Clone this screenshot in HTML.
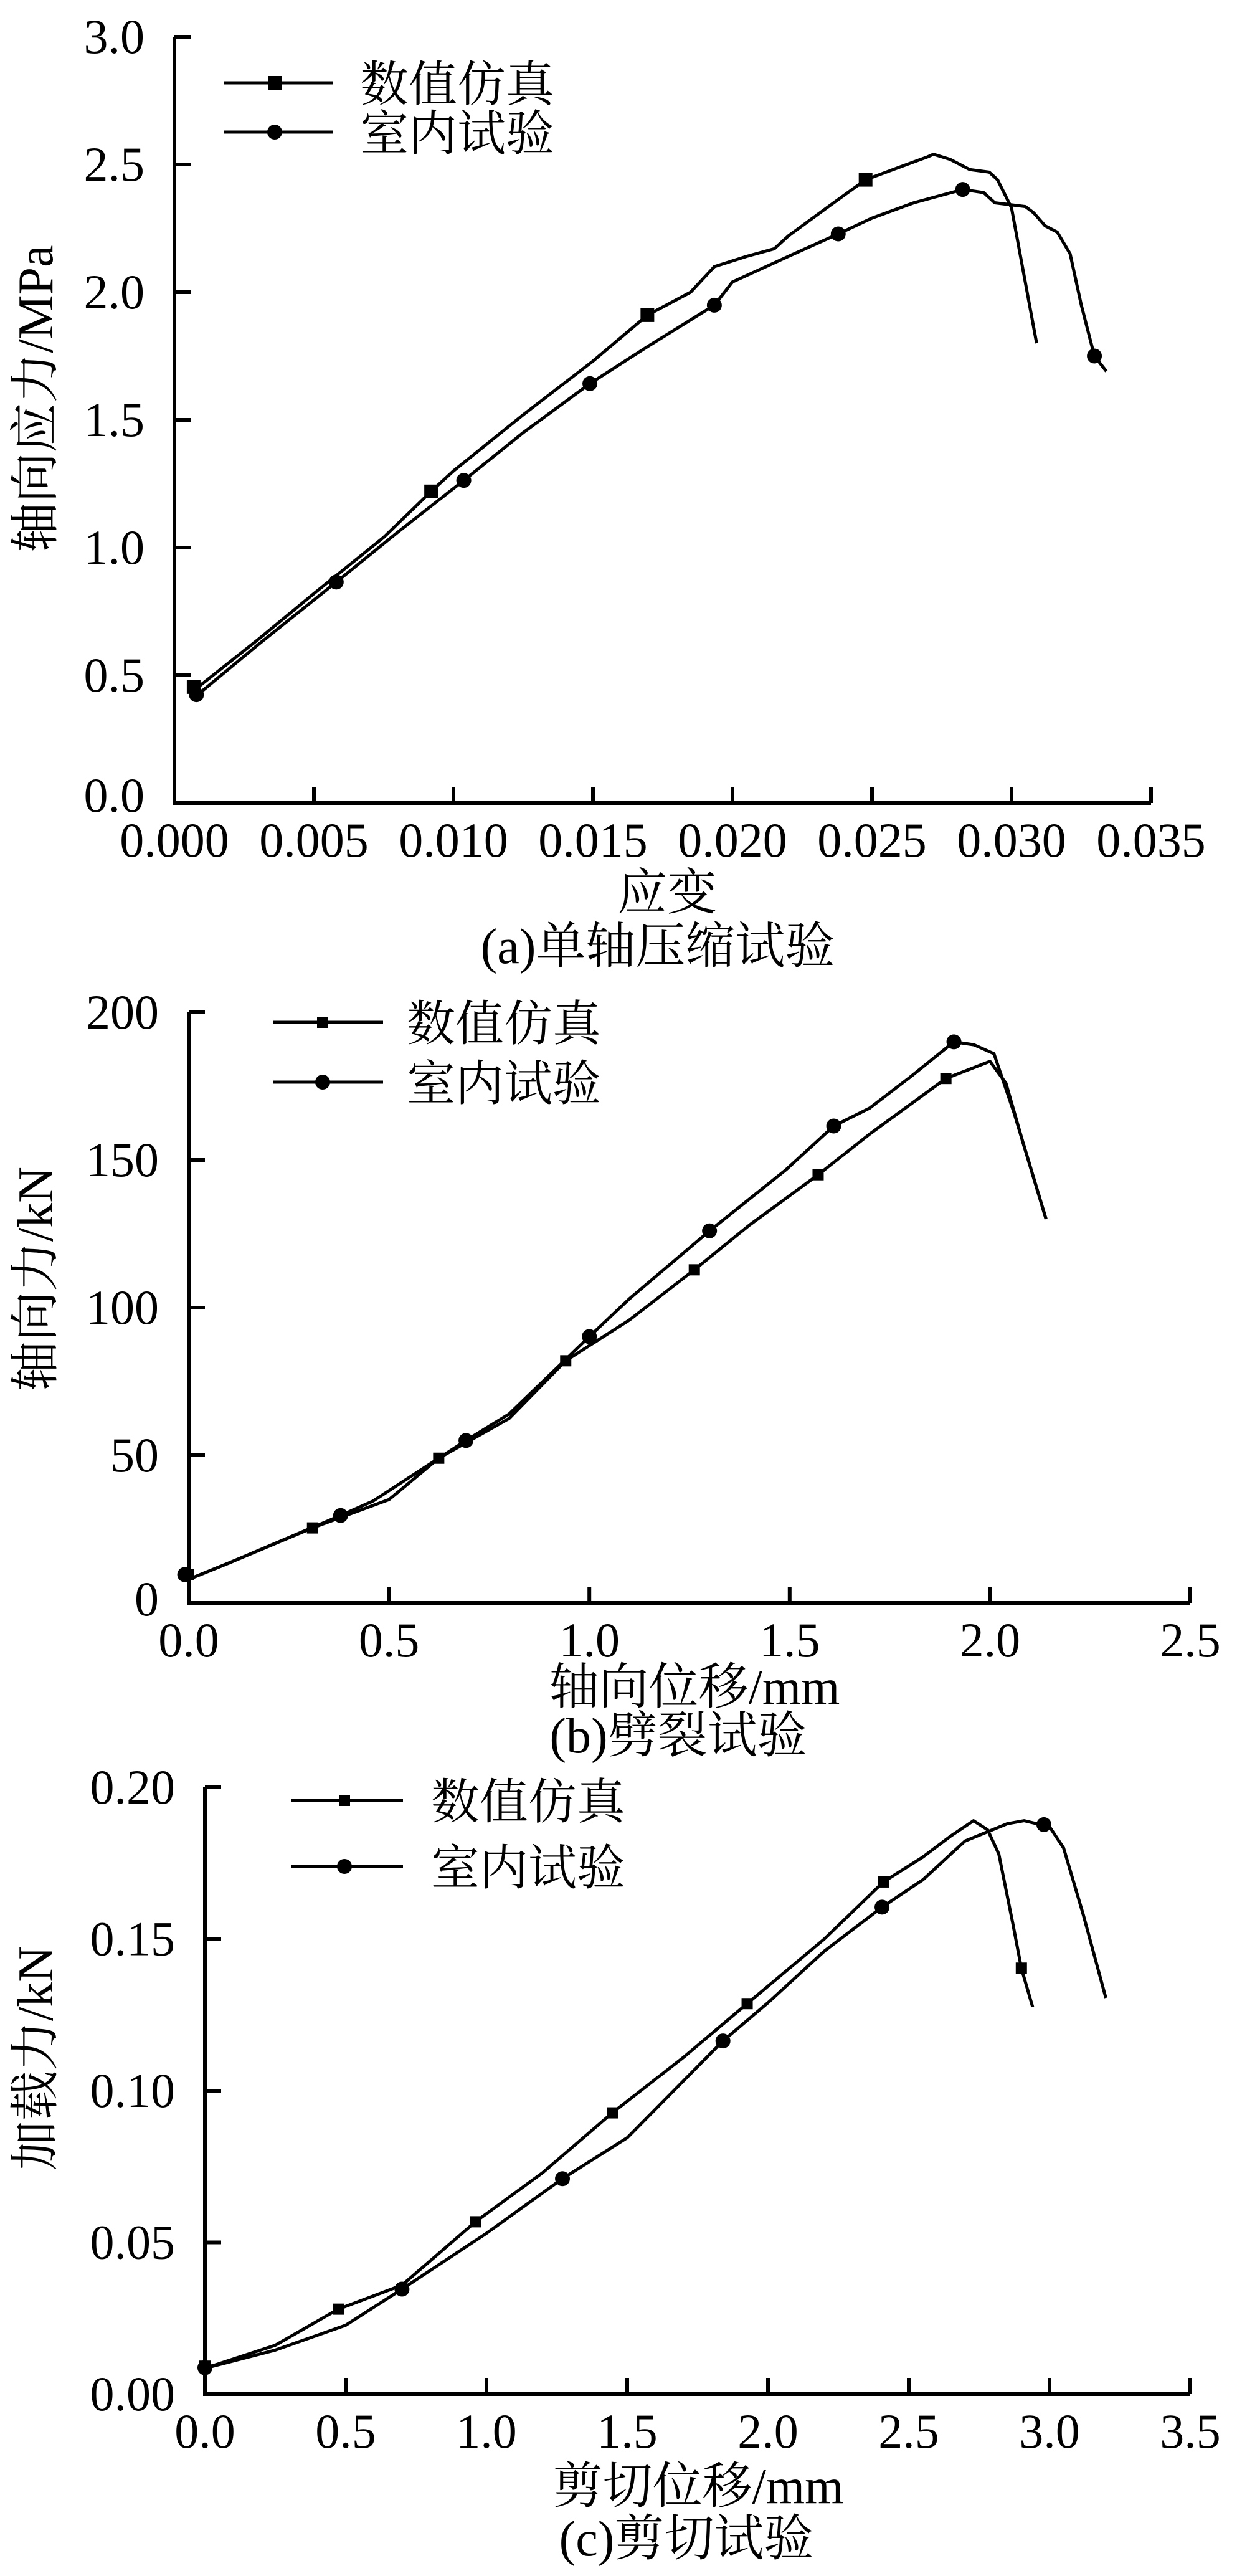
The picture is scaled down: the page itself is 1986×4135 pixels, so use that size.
<!DOCTYPE html>
<html><head><meta charset="utf-8"><style>
html,body{margin:0;padding:0;background:#fff;}
svg{display:block;}
text{fill:#000;}
</style></head><body>
<svg id="fig" width="1986" height="4135" viewBox="0 0 1986 4135" xmlns="http://www.w3.org/2000/svg"></svg>
<script>
// ---- Chart (a) data ----
const aSimX=[0.00069,0.003,0.005,0.0075,0.0092,0.010,0.0125,0.015,0.01695,0.0185,0.01935,0.0205,0.0215,0.022,0.0235,0.02477,0.026,0.027,0.0272,0.0278,0.0285,0.0292,0.0295,0.0300,0.0309];
const aSimY=[0.44,0.64,0.82,1.04,1.22,1.30,1.52,1.73,1.91,2.00,2.10,2.14,2.17,2.22,2.34,2.44,2.49,2.53,2.54,2.52,2.48,2.47,2.44,2.33,1.80];
const aLabX=[0.00079,0.003,0.0058,0.008,0.01037,0.0125,0.01489,0.017,0.01935,0.020,0.022,0.02379,0.025,0.0265,0.02825,0.0290,0.0294,0.0305,0.0308,0.0312,0.03164,0.0321,0.0325,0.03297,0.0334];
const aLabY=[0.42,0.62,0.865,1.06,1.263,1.45,1.642,1.79,1.949,2.04,2.14,2.228,2.29,2.35,2.402,2.39,2.35,2.335,2.31,2.26,2.235,2.15,1.95,1.75,1.69];
const aSimMX=[0.00069,0.0092,0.01695,0.02477];
const aSimMY=[0.454,1.22,1.91,2.44];
const aLabMX=[0.00079,0.0058,0.01037,0.01489,0.01935,0.02379,0.02825,0.03297];
const aLabMY=[0.424,0.865,1.263,1.642,1.949,2.228,2.402,1.75];
const aXTicks=["0.000","0.005","0.010","0.015","0.020","0.025","0.030","0.035"];
const aYTicks=["0.0","0.5","1.0","1.5","2.0","2.5","3.0"];
// ---- Chart (b) data ----
const bSimX=[0,0.1,0.309,0.5,0.624,0.8,0.941,1.1,1.262,1.4,1.571,1.70,1.89,2.0,2.04,2.08,2.14];
const bSimY=[8,13.5,25.4,35,49,62.5,82,95.8,112.8,128,145,158.8,177.6,183.4,176,157,130];
const bLabX=[0,0.1,0.379,0.46,0.692,0.8,1.0,1.10,1.30,1.49,1.61,1.70,1.80,1.91,1.96,2.01,2.06,2.14];
const bLabY=[8,13.5,29.6,34.5,55,64,90.2,103,126,146.6,161.5,167.6,178,190,189,186,166,130];
const bSimMX=[0,0.309,0.624,0.941,1.262,1.571,1.89];
const bSimMY=[9.6,25.4,49,82,112.8,145,177.6];
const bLabMX=[-0.01,0.379,0.692,1.0,1.30,1.61,1.91];
const bLabMY=[9.6,29.6,55,90.2,126,161.5,190];
const bXTicks=["0.0","0.5","1.0","1.5","2.0","2.5"];
const bYTicks=["0","50","100","150","200"];
// ---- Chart (c) data ----
const cSimX=[0,0.25,0.474,0.7,0.961,1.2,1.447,1.7,1.926,2.2,2.41,2.55,2.65,2.73,2.78,2.82,2.87,2.90,2.94];
const cSimY=[0.0085,0.0161,0.028,0.0359,0.0568,0.073,0.0927,0.111,0.1287,0.150,0.1688,0.177,0.184,0.189,0.186,0.178,0.155,0.1404,0.1276];
const cLabX=[0,0.25,0.5,0.70,1.0,1.27,1.5,1.84,2.0,2.2,2.405,2.55,2.7,2.85,2.91,3.0,3.05,3.12,3.20];
const cLabY=[0.0085,0.0145,0.0227,0.0346,0.053,0.071,0.0845,0.1164,0.129,0.146,0.1605,0.1695,0.1823,0.188,0.189,0.187,0.180,0.158,0.1306];
const cSimMX=[0,0.474,0.961,1.447,1.926,2.41,2.90];
const cSimMY=[0.0092,0.028,0.0568,0.0927,0.1287,0.1688,0.1404];
const cLabMX=[0,0.70,1.27,1.84,2.405,2.98];
const cLabMY=[0.0087,0.0346,0.071,0.1164,0.1605,0.1877];
const cXTicks=["0.0","0.5","1.0","1.5","2.0","2.5","3.0","3.5"];
const cYTicks=["0.00","0.05","0.10","0.15","0.20"];

const NS="http://www.w3.org/2000/svg";
const FONT='"Liberation Serif", "Times New Roman", "Noto Serif CJK SC", serif';
const svg=document.getElementById('fig');
function mk(tag,attrs,parent,txt){const e=document.createElementNS(NS,tag);for(const k in attrs)e.setAttribute(k,attrs[k]);if(txt!==undefined)e.textContent=txt;parent.appendChild(e);return e;}
function txt(parent,x,y,s,size,anchor,extra){
  const a={x:x,y:y,'text-anchor':anchor,'font-family':FONT,'font-size':size};
  if(extra)Object.assign(a,extra);
  return mk('text',a,parent,s);
}

function chart(c){
  const g=mk('g',{},svg);
  
  
  const X=v=>c.x0+(v-c.xmin)/(c.xmax-c.xmin)*(c.x1-c.x0);
  const Y=v=>c.y0-(v-c.ymin)/(c.ymax-c.ymin)*(c.y0-c.y1);
  const ax=mk('path',{d:`M${c.x0},${c.y1} V${c.y0} H${c.x1}`,fill:'none',stroke:'#000','stroke-width':6},g);
  
  
  c.xt.forEach((t,i)=>{
    const v=c.xmin+i*(c.xmax-c.xmin)/(c.xt.length-1);const x=X(v);
    if(i>0){const tl=mk('line',{x1:x,y1:c.y0,x2:x,y2:c.y0-26,stroke:'#000','stroke-width':6},g);
    
    }
    const tx=txt(g,x,c.y0+86,t,78,'middle');
    
    
  });
  c.yt.forEach((t,i)=>{
    const v=c.ymin+i*(c.ymax-c.ymin)/(c.yt.length-1);const y=Y(v);
    if(i>0){const tl=mk('line',{x1:c.x0,y1:y,x2:c.x0+26,y2:y,stroke:'#000','stroke-width':6},g);
    
    }
    const tx=txt(g,c.x0-48,y+(i===0?c.zeroOff:26),t,78,'end');
    
    
  });
  const line=(xs,ys,name)=>{const d=xs.map((v,i)=>(i?'L':'M')+X(v).toFixed(1)+','+Y(ys[i]).toFixed(1)).join(' ');
    const p=mk('path',{d:d,fill:'none',stroke:'#000','stroke-width':5,'stroke-linejoin':'round'},g);
    
    };
  line(c.sx,c.sy,'simulation-line');
  line(c.lx,c.ly,'lab-test-line');
  c.smx.forEach((v,i)=>{const s=c.sq;const r=mk('rect',{x:X(v)-s/2,y:Y(c.smy[i])-s/2,width:s,height:s,fill:'#000'},g);
    
    });
  c.lmx.forEach((v,i)=>{const ci=mk('circle',{cx:X(v),cy:Y(c.lmy[i]),r:12,fill:'#000'},g);
    
    });
  const lg=mk('g',{},g);
  
  
  [[c.ly1,'数值仿真','sq'],[c.ly2,'室内试验','ci']].forEach(([y,t,m])=>{
    mk('line',{x1:c.lx0,y1:y,x2:c.lx1,y2:y,stroke:'#000','stroke-width':5},lg);
    const mx=c.lmk;
    if(m==='sq'){const s=c.sq;mk('rect',{x:mx-s/2,y:y-s/2,width:s,height:s,fill:'#000'},lg);}
    else mk('circle',{cx:mx,cy:y,r:12,fill:'#000'},lg);
    const tt=txt(lg,c.ltx,y+29,t,78,'start');
    
    
  });
  const xt=txt(g,c.xtx,c.xty,c.xtitle,80,'middle');
  
  
  const cap=txt(g,c.cx,c.cy,c.caption,80,'middle');
  
  
  const yt=txt(g,0,0,c.ytitle,80,'middle',{transform:`translate(${c.ytx},${c.yty}) rotate(-90)`});
  
  
}

chart({id:'chart-a-uniaxial',x0:280,x1:1848,y0:1289,y1:59,xmin:0,xmax:0.035,ymin:0,ymax:3.0,xt:aXTicks,yt:aYTicks,zeroOff:14,
 sx:aSimX,sy:aSimY,lx:aLabX,ly:aLabY,smx:aSimMX,smy:aSimMY,lmx:aLabMX,lmy:aLabMY,sq:22,
 lx0:360,lx1:535,lmk:441,ly1:133,ly2:212,ltx:578,
 xtitle:'应变',xtx:1071,xty:1460,caption:'(a)单轴压缩试验',cx:1056,cy:1546,ytitle:'轴向应力/MPa',ytx:84,yty:640});
chart({id:'chart-b-splitting',x0:303,x1:1911,y0:2573,y1:1625,xmin:0,xmax:2.5,ymin:0,ymax:200,xt:bXTicks,yt:bYTicks,zeroOff:20,
 sx:bSimX,sy:bSimY,lx:bLabX,ly:bLabY,smx:bSimMX,smy:bSimMY,lmx:bLabMX,lmy:bLabMY,sq:18,
 lx0:438,lx1:615,lmk:518,ly1:1641,ly2:1737,ltx:653,
 xtitle:'轴向位移/mm',xtx:1115,xty:2735,caption:'(b)劈裂试验',cx:1089,cy:2813,ytitle:'轴向力/kN',ytx:84,yty:2053});
chart({id:'chart-c-shear',x0:329,x1:1911,y0:3843,y1:2869,xmin:0,xmax:3.5,ymin:0,ymax:0.20,xt:cXTicks,yt:cYTicks,zeroOff:26,
 sx:cSimX,sy:cSimY,lx:cLabX,ly:cLabY,smx:cSimMX,smy:cSimMY,lmx:cLabMX,lmy:cLabMY,sq:18,
 lx0:468,lx1:647,lmk:553,ly1:2890,ly2:2996,ltx:692,
 xtitle:'剪切位移/mm',xtx:1121,xty:4018,caption:'(c)剪切试验',cx:1102,cy:4102,ytitle:'加载力/kN',ytx:84,yty:3304});
</script>
</body></html>
